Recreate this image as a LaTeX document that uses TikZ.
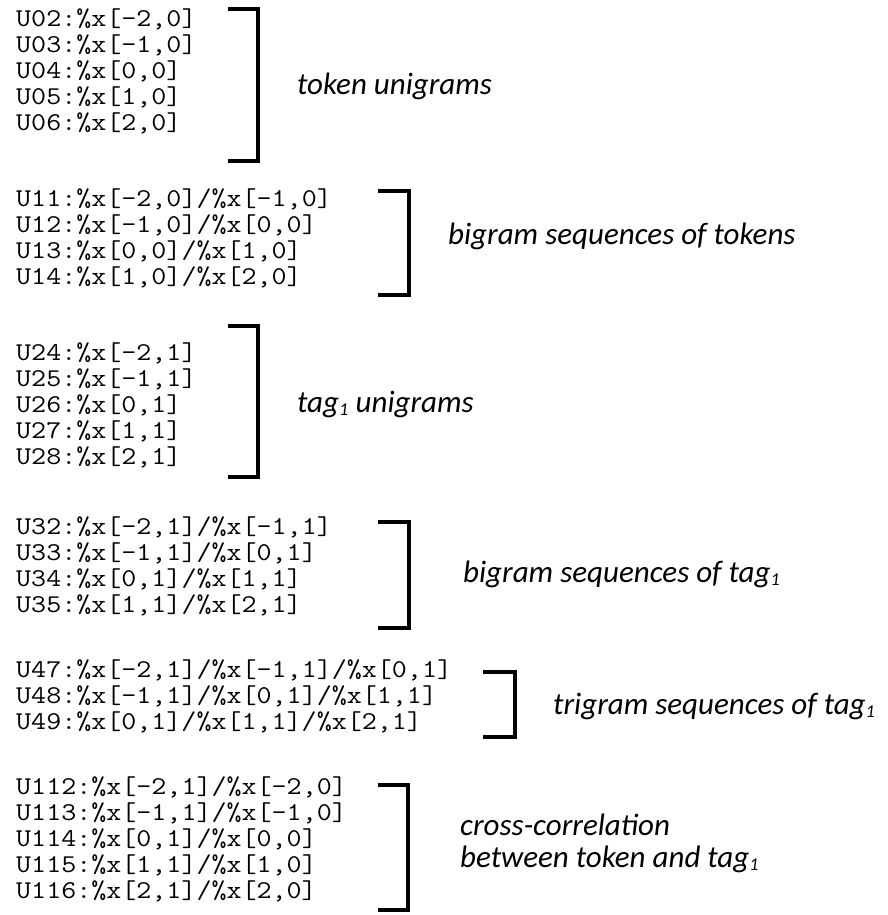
\documentclass[tikz,border=0pt]{standalone}
\usepackage{fontspec}
\setmainfont{Carlito}
\newfontfamily\codefont[FakeStretch=1.14]{Latin Modern Mono}
\usepackage{tikz}
\newcommand{\subone}{\textsubscript{\fontsize{18}{18}\selectfont 1}}
\tikzset{
  code/.style={anchor=base west, inner sep=0pt, font=\codefont\fontsize{25.6}{26}\selectfont},
  note/.style={anchor=base west, inner sep=0pt, font=\itshape\fontsize{31}{32}\selectfont},
  bracketline/.style={line width=3.2pt}
}

\begin{document}
\begin{tikzpicture}[x=1pt,y=-1pt]
  \useasboundingbox (0,0) rectangle (887,915);

  % token unigrams
  \foreach \s [count=\i from 0] in {{U02:\%x[-2,0]},{U03:\%x[-1,0]},{U04:\%x[0,0]},{U05:\%x[1,0]},{U06:\%x[2,0]}}
    \node[code] (tok\i) at (16,27+26*\i) {\s};
  \draw[bracketline] (228,9) -- (258,9) -- (258,161) -- (228,161);
  \node[note] (tokuni) at (297,95) {token unigrams};

  % bigrams of tokens
  \foreach \s [count=\i from 0] in {{U11:\%x[-2,0]/\%x[-1,0]},{U12:\%x[-1,0]/\%x[0,0]},{U13:\%x[0,0]/\%x[1,0]},{U14:\%x[1,0]/\%x[2,0]}}
    \node[code] (tokbi\i) at (16,206+26*\i) {\s};
  \draw[bracketline] (378,191) -- (409,191) -- (409,295) -- (378,295);
  \node[note] (tokbig) at (448,244) {bigram sequences of tokens};

  % tag unigrams
  \foreach \s [count=\i from 0] in {{U24:\%x[-2,1]},{U25:\%x[-1,1]},{U26:\%x[0,1]},{U27:\%x[1,1]},{U28:\%x[2,1]}}
    \node[code] (tag\i) at (16,360+26*\i) {\s};
  \draw[bracketline] (228,326) -- (258,326) -- (258,477) -- (228,477);
  \node[note] (taguni) at (297,412) {tag\subone{} unigrams};

  % bigrams of tags
  \foreach \s [count=\i from 0] in {{U32:\%x[-2,1]/\%x[-1,1]},{U33:\%x[-1,1]/\%x[0,1]},{U34:\%x[0,1]/\%x[1,1]},{U35:\%x[1,1]/\%x[2,1]}}
    \node[code] (tagbi\i) at (16,534+26*\i) {\s};
  \draw[bracketline] (378,522) -- (409,522) -- (409,628) -- (378,628);
  \node[note] (tagbig) at (463,582) {bigram sequences of tag\subone};

  % trigrams of tags
  \foreach \s [count=\i from 0] in {{U47:\%x[-2,1]/\%x[-1,1]/\%x[0,1]},{U48:\%x[-1,1]/\%x[0,1]/\%x[1,1]},{U49:\%x[0,1]/\%x[1,1]/\%x[2,1]}}
    \node[code] (tagtri\i) at (16,677+26*\i) {\s};
  \draw[bracketline] (483,672) -- (515,672) -- (515,737) -- (483,737);
  \node[note] (tagtrig) at (553,714) {trigram sequences of tag\subone};

  % token x tag
  \foreach \s [count=\i from 0] in {{U112:\%x[-2,1]/\%x[-2,0]},{U113:\%x[-1,1]/\%x[-1,0]},{U114:\%x[0,1]/\%x[0,0]},{U115:\%x[1,1]/\%x[1,0]},{U116:\%x[2,1]/\%x[2,0]}}
    \node[code] (cross\i) at (16,794+26*\i) {\s};
  \draw[bracketline] (378,785) -- (408,785) -- (408,910) -- (378,910);
  \node[note] (crossa) at (460,835) {cross-correlation};
  \node[note] (crossb) at (460,867) {between token and tag\subone};
\end{tikzpicture}
\end{document}
